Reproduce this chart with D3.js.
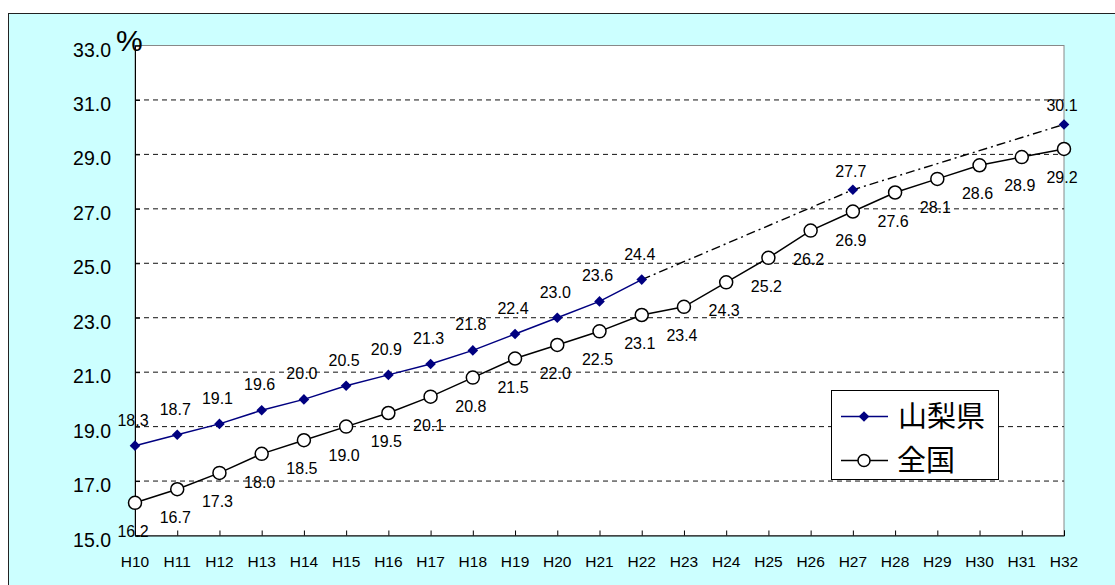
<!DOCTYPE html>
<html lang="ja">
<head>
    <meta charset="UTF-8">
    <title>高齢化率の推移</title>
    <script src="https://cdnjs.cloudflare.com/ajax/libs/d3/7.8.5/d3.min.js"></script>
<style type="text/css">
    body
    {
        margin: 0;
        background: #fff;
    }
    text
    {
        font-family: Arial, "Liberation Sans", sans-serif;
        fill: #000;
    }
    .grid
    {
        stroke: #111;
        stroke-width: 1px;
        stroke-dasharray: 5,4;
    }
</style>
</head>
<body>
<div id="chart"></div>

<script type="text/javascript">
    // 年度 (平成)
    const years = ["H10","H11","H12","H13","H14","H15","H16","H17","H18","H19","H20","H21","H22",
                   "H23","H24","H25","H26","H27","H28","H29","H30","H31","H32"];
    // 山梨県 実績
    const yamanashiYears = ["H10","H11","H12","H13","H14","H15","H16","H17","H18","H19","H20","H21","H22"];
    const yamanashi = [18.3, 18.7, 19.1, 19.6, 20.0, 20.5, 20.9, 21.3, 21.8, 22.4, 23.0, 23.6, 24.4];
    // 山梨県 推計
    const projYears = ["H22","H27","H32"];
    const projection = [24.4, 27.7, 30.1];
    // 全国
    const national = [16.2, 16.7, 17.3, 18.0, 18.5, 19.0, 19.5, 20.1, 20.8, 21.5, 22.0, 22.5, 23.1,
                      23.4, 24.3, 25.2, 26.2, 26.9, 27.6, 28.1, 28.6, 28.9, 29.2];
    const yTicks = [15, 17, 19, 21, 23, 25, 27, 29, 31, 33];

    const W = 1115, H = 585;
    const plot = {left: 135, right: 1064, top: 45.5, bottom: 535.5};

    const svg = d3.select("#chart").append("svg")
        .attr("width", W)
        .attr("height", H);

    // 外枠
    svg.append("rect")
        .attr("x", 8.5).attr("y", 13.5)
        .attr("width", W + 20).attr("height", H + 20)
        .attr("fill", "#ccffff")
        .attr("stroke", "#222");

    const x = d3.scalePoint().domain(years).range([plot.left, plot.right]).padding(0);
    const y = d3.scaleLinear().domain([15, 33]).range([plot.bottom, plot.top]);

    // プロットエリア
    svg.append("rect")
        .attr("x", plot.left).attr("y", plot.top)
        .attr("width", plot.right - plot.left).attr("height", plot.bottom - plot.top)
        .attr("fill", "#fff")
        .attr("stroke", "#888");

    svg.selectAll(".grid")
        .data(yTicks.filter(d => d > 15 && d < 33))
        .enter().append("line")
        .attr("class", "grid")
        .attr("x1", plot.left).attr("x2", plot.right)
        .attr("y1", d => y(d)).attr("y2", d => y(d));

    // 軸
    const yAxis = svg.append("g")
        .attr("transform", `translate(${plot.left},0)`)
        .call(d3.axisRight(y).tickValues(yTicks).tickSize(5).tickFormat(""));
    yAxis.select(".domain").attr("stroke", "#000");

    const xAxis = svg.append("g")
        .attr("transform", `translate(0,${plot.bottom})`)
        .call(d3.axisTop(x).tickSize(5).tickFormat(""));
    xAxis.select(".domain").attr("stroke", "#000");

    svg.selectAll(".ylab")
        .data(yTicks)
        .enter().append("text")
        .attr("class", "ylab")
        .attr("x", 111)
        .attr("y", d => y(d) + 11)
        .attr("text-anchor", "end")
        .attr("font-size", 19.5)
        .text(d => d.toFixed(1));

    svg.selectAll(".xlab")
        .data(years)
        .enter().append("text")
        .attr("class", "xlab")
        .attr("x", d => x(d))
        .attr("y", 567)
        .attr("text-anchor", "middle")
        .attr("font-size", 15.5)
        .text(d => d);

    svg.append("text")
        .attr("x", 116).attr("y", 51)
        .attr("font-size", 30)
        .text("%");

    // 線
    const line = d3.line().x(d => x(d[0])).y(d => y(d[1]));

    svg.append("path")
        .datum(d3.zip(projYears, projection))
        .attr("d", line)
        .attr("fill", "none")
        .attr("stroke", "#000")
        .attr("stroke-width", 1.4)
        .attr("stroke-dasharray", "9,4,2,4");

    svg.append("path")
        .datum(d3.zip(years, national))
        .attr("d", line)
        .attr("fill", "none")
        .attr("stroke", "#000")
        .attr("stroke-width", 1.5);

    svg.append("path")
        .datum(d3.zip(yamanashiYears, yamanashi))
        .attr("d", line)
        .attr("fill", "none")
        .attr("stroke", "#000080")
        .attr("stroke-width", 1.5);

    // マーカー
    const diamond = d3.symbol().type(d3.symbolDiamond2).size(72);

    svg.selectAll(".natpt")
        .data(d3.zip(years, national))
        .enter().append("circle")
        .attr("cx", d => x(d[0])).attr("cy", d => y(d[1]))
        .attr("r", 6.5)
        .attr("fill", "#fff")
        .attr("stroke", "#000")
        .attr("stroke-width", 1.5);

    const yamaPts = d3.zip(yamanashiYears, yamanashi).concat(d3.zip(projYears, projection).slice(1));
    svg.selectAll(".yamapt")
        .data(yamaPts)
        .enter().append("path")
        .attr("d", diamond)
        .attr("transform", d => `translate(${x(d[0])},${y(d[1])})`)
        .attr("fill", "#000080");

    // データラベル
    svg.selectAll(".yamalab")
        .data(yamaPts)
        .enter().append("text")
        .attr("x", d => x(d[0]) - 2)
        .attr("y", d => y(d[1]) - (projYears.indexOf(d[0]) > 0 ? 13 : 20))
        .attr("text-anchor", "middle")
        .attr("font-size", 16)
        .text(d => d[1].toFixed(1));

    svg.selectAll(".natlab")
        .data(d3.zip(years, national))
        .enter().append("text")
        .attr("x", d => x(d[0]) - 2)
        .attr("y", d => y(d[1]) + 34)
        .attr("text-anchor", "middle")
        .attr("font-size", 16)
        .text(d => d[1].toFixed(1));

    // 凡例
    const legend = svg.append("g");
    legend.append("rect")
        .attr("x", 831.5).attr("y", 390.5)
        .attr("width", 167).attr("height", 89)
        .attr("fill", "#fff")
        .attr("stroke", "#000");

    legend.append("line")
        .attr("x1", 841).attr("x2", 888).attr("y1", 416.5).attr("y2", 416.5)
        .attr("stroke", "#000080").attr("stroke-width", 1.5);
    legend.append("path")
        .attr("d", diamond)
        .attr("transform", "translate(864,416.5)")
        .attr("fill", "#000080");
    legend.append("text")
        .attr("x", 898).attr("y", 427)
        .attr("font-size", 29)
        .style("font-family", "'Noto Sans CJK JP', sans-serif")
        .text("山梨県");

    legend.append("line")
        .attr("x1", 841).attr("x2", 888).attr("y1", 460.5).attr("y2", 460.5)
        .attr("stroke", "#000").attr("stroke-width", 1.5);
    legend.append("circle")
        .attr("cx", 864).attr("cy", 460.5).attr("r", 6)
        .attr("fill", "#fff")
        .attr("stroke", "#000").attr("stroke-width", 1.5);
    legend.append("text")
        .attr("x", 897).attr("y", 471)
        .attr("font-size", 29)
        .style("font-family", "'Noto Sans CJK JP', sans-serif")
        .text("全国");
</script>
</body>
</html>
